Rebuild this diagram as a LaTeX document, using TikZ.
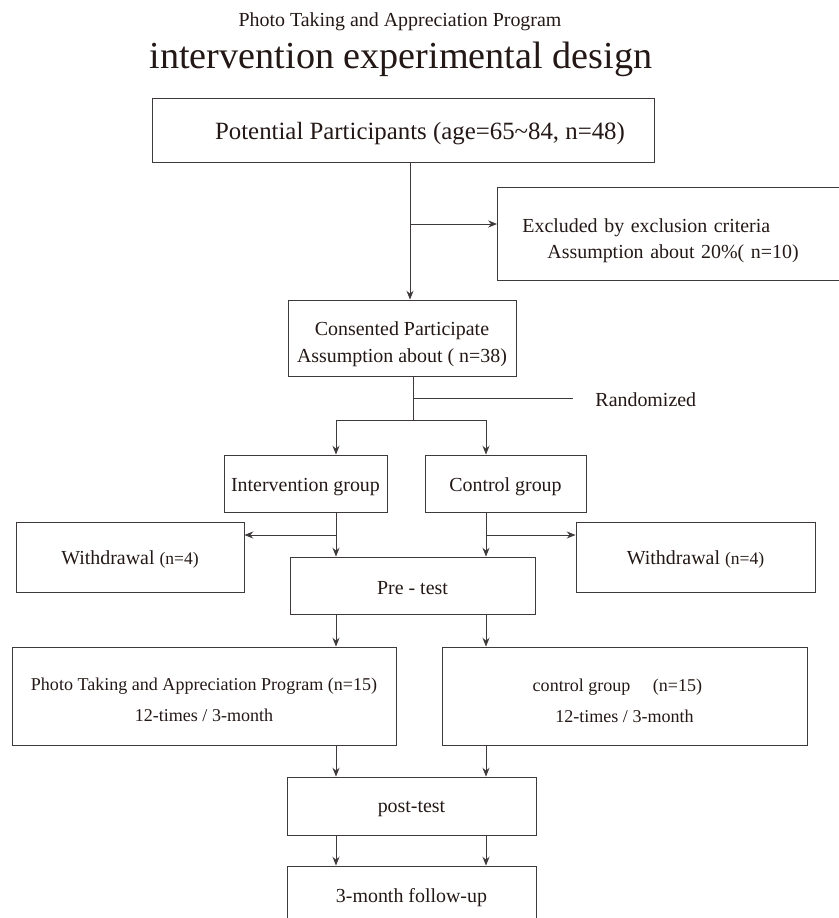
\documentclass[tikz,border=0pt]{standalone}
\usepackage{fontspec}
\setmainfont{Liberation Serif}
\usetikzlibrary{arrows.meta}
\definecolor{inkc}{HTML}{231815}
\definecolor{linec}{HTML}{3E3A39}
\newcommand{\pad}[1]{\rule{0pt}{#1pt}}
\tikzset{
  box/.style={draw=linec, line width=0.8pt, text=inkc, align=center, inner sep=0pt, font=\fontsize{17}{21.5}\selectfont},
  arr/.style={draw=linec, line width=0.8pt, -{Stealth[length=7.5pt,width=6pt]}},
  lne/.style={draw=linec, line width=0.8pt},
}
\begin{document}
\begin{tikzpicture}[x=0.03cm,y=-0.03cm]
  \useasboundingbox (0,0) rectangle (839,918);
  \clip (0,0) rectangle (839,918);
  %overskrift
	\node[text=inkc, font=\fontsize{17}{20}\selectfont] (sub) at (400,22) {Photo Taking and Appreciation Program};
	\node[text=inkc, font=\fontsize{32.6}{36}\selectfont] (tit) at (401,59) {intervention experimental design};

  %kasser
	\node[box, minimum width=15.06cm, minimum height=1.92cm, font=\fontsize{21.2}{24}\selectfont] (pot) at (403,130) {\pad{21.5}\hspace*{29pt}Potential Participants (age=65\textasciitilde 84, n=48)};
	\node[box, anchor=west, align=left, text width=9.6cm, inner xsep=0.75cm, minimum height=2.79cm, font=\fontsize{17}{22.2}\selectfont] (excl) at (497,233.5) {\pad{23.7}Excluded by exclusion criteria\\\hspace*{21.3pt}Assumption about 20\%( n=10)};
	\node[box, minimum width=6.84cm, minimum height=2.28cm, font=\fontsize{17}{23}\selectfont] (cons) at (402,338) {\pad{22}Consented Participate\\ Assumption about ( n=38)};
	\node[box, anchor=west, draw=none] (rand) at (595,400) {Randomized};
	\node[box, minimum width=4.89cm, minimum height=1.71cm] (intv) at (305.5,483.5) {\pad{16.8}Intervention group};
	\node[box, minimum width=4.83cm, minimum height=1.71cm] (ctrl) at (505.5,483.5) {\pad{16.8}Control group};
	\node[box, minimum width=6.84cm, minimum height=2.1cm] (wdl) at (130,557) {\pad{16.8}Withdrawal {\fontsize{15}{17}\selectfont(n=4)}};
	\node[box, minimum width=7.17cm, minimum height=2.1cm] (wdr) at (695.5,557) {\pad{16.8}Withdrawal {\fontsize{15}{17}\selectfont(n=4)}};
	\node[box, minimum width=7.35cm, minimum height=1.71cm] (pre) at (412.5,585.5) {\pad{14.7}Pre - test};
	\node[box, minimum width=11.52cm, minimum height=2.94cm, font=\fontsize{15.4}{27}\selectfont] (prog) at (204,696) {\pad{17.4}Photo Taking and Appreciation Program (n=15)\\12-times / 3-month};
	\node[box, minimum width=10.95cm, minimum height=2.94cm, font=\fontsize{15.4}{26.5}\selectfont] (ctlp) at (624.5,696) {\pad{19.1}\hspace*{-12pt}control group\hspace{1em} (n=15)\\12-times / 3-month};
	\node[box, minimum width=7.47cm, minimum height=1.74cm] (post) at (411.5,806) {\pad{14.9}post-test};
	\node[box, minimum width=7.47cm, minimum height=1.74cm] (fu) at (411.5,895) {\pad{16.8}3-month follow-up};

  %hjaelpepunkter
	\coordinate (j1) at (410,224);
	\coordinate (r) at (413,398);
	\coordinate (s) at (413,420);
	\coordinate (ll) at (336,420);
	\coordinate (rl) at (486,420);
	\coordinate (w1) at (336,535);
	\coordinate (w2) at (486,535);

  %pile
	\draw[arr] (pot.south -| j1) -- (cons.north -| j1);
	\draw[arr] (j1) -- (excl.west |- j1);
	\draw[lne] (cons.south -| s) -- (s);
	\draw[lne, shorten >=0.66cm] (r) -- (rand.west |- r);
	\draw[lne] (ll) -- (rl);
	\draw[arr] (ll) -- (intv.north -| ll);
	\draw[arr] (rl) -- (ctrl.north -| rl);
	\draw[arr] (intv.south -| ll) -- (pre.north -| ll);
	\draw[arr] (ctrl.south -| rl) -- (pre.north -| rl);
	\draw[arr] (w1) -- (wdl.east |- w1);
	\draw[arr] (w2) -- (wdr.west |- w2);
	\draw[arr] (pre.south -| ll) -- (prog.north -| ll);
	\draw[arr] (pre.south -| rl) -- (ctlp.north -| rl);
	\draw[arr] (prog.south -| ll) -- (post.north -| ll);
	\draw[arr] (ctlp.south -| rl) -- (post.north -| rl);
	\draw[arr] (post.south -| ll) -- (fu.north -| ll);
	\draw[arr] (post.south -| rl) -- (fu.north -| rl);
\end{tikzpicture}
\end{document}
